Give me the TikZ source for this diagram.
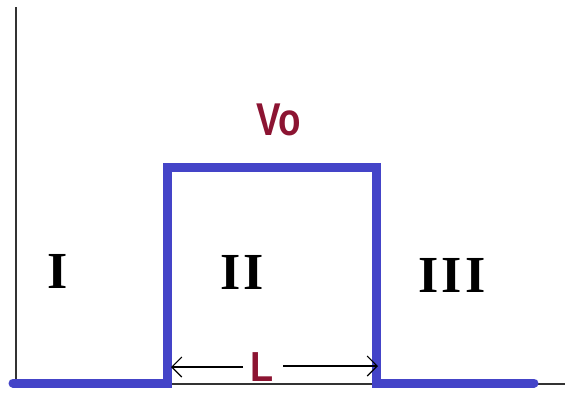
\documentclass[tikz,border=0pt]{standalone}
\usepackage{fontspec}
\usepackage{graphicx}
\usetikzlibrary{arrows.meta}
\newfontfamily\regionfont{Liberation Serif}[LetterSpace=6]
\newfontfamily\labelfont{Liberation Sans}
\definecolor{wellblue}{RGB}{68,68,200}
\definecolor{labelred}{RGB}{140,20,50}
\tikzset{
  axisline/.style={draw=black!80, line width=1.3pt},
  potline/.style={draw=wellblue, line width=9pt, line cap=round, line join=miter},
  region/.style={inner sep=0pt, font=\regionfont\bfseries\fontsize{52}{52}\selectfont},
  redlabel/.style={inner sep=0pt, text=labelred, font=\labelfont\bfseries\fontsize{46}{46}\selectfont},
  lenlabel/.style={inner sep=0pt, text=labelred, font=\labelfont\bfseries\fontsize{42}{42}\selectfont},
  dimline/.style={draw=black, line width=1.3pt, -{Straight Barb[length=10pt,width=20pt,line width=1.1pt]}},
}
\begin{document}
\begin{tikzpicture}[x=1pt,y=-1pt]
\useasboundingbox (0,0) rectangle (565,392);
\fill[white] (0,0) rectangle (565,392);
% axes
\coordinate (ytop) at (16,7);
\coordinate (origin) at (16,384);
\coordinate (xend) at (565,384);
\draw[axisline] (ytop) -- (origin) -- (xend);
% potential barrier
\coordinate (p0) at (13,383);
\coordinate (p1) at (167,383);
\coordinate (p2) at (167,167);
\coordinate (p3) at (376,167);
\coordinate (p4) at (376,383);
\coordinate (p5) at (534,383);
\draw[potline] (p0) -- (p1) -- (p2) -- (p3) -- (p4) -- (p5);
% labels
\node[region] (r1) at (58,271) {I};
\node[region] (r2) at (242,272) {II};
\node[region] (r3) at (452,275) {III};
\node[redlabel, anchor=base west] (vo) at (256,135) {\scalebox{0.8}[1]{Vo}};
\node[lenlabel, anchor=base west] (len) at (250,381) {\scalebox{0.9}[1]{L}};
% width arrow
\coordinate (la) at (243,367);
\coordinate (lt) at (171,367);
\coordinate (ra) at (283,366);
\coordinate (rt) at (378,366);
\draw[dimline] (la) -- (lt);
\draw[dimline] (ra) -- (rt);
\end{tikzpicture}
\end{document}
